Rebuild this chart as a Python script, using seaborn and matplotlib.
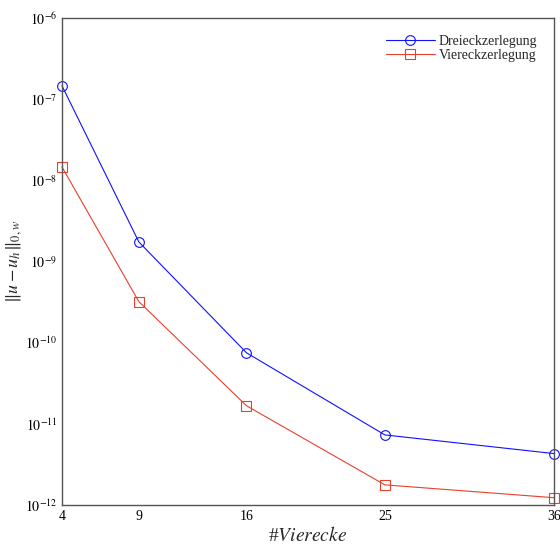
import numpy as np
import pandas as pd
import matplotlib
matplotlib.use("Agg")
import matplotlib.pyplot as plt
import seaborn as sns
from matplotlib.ticker import FixedLocator, NullLocator

n_vierecke = [4, 9, 16, 25, 36]
dreieck = [1.46e-7, 1.74e-9, 7.5e-11, 7.3e-12, 4.3e-12]
viereck = [1.46e-8, 3.2e-10, 1.67e-11, 1.77e-12, 1.23e-12]
series_names = ["Dreieckzerlegung", "Viereckzerlegung"]
y_exponents = [-12, -11, -10, -9, -8, -7, -6]

df = pd.DataFrame({
    "n": n_vierecke * 2,
    "err": dreieck + viereck,
    "method": [series_names[0]] * 5 + [series_names[1]] * 5,
})

sns.set_style("white")
plt.rcParams["font.family"] = ["Liberation Serif", "DejaVu Serif"]
plt.rcParams["mathtext.fontset"] = "stix"

fig = plt.figure(figsize=(5.6, 5.45), dpi=100)
ax = fig.add_axes([0.1107, 0.0734, 0.8786, 0.8936])

palette = {series_names[0]: "#1010ff", series_names[1]: "#e8402a"}
sns.lineplot(data=df, x="n", y="err", hue="method", style="method",
             markers={series_names[0]: "o", series_names[1]: "s"},
             dashes=False, palette=palette, ax=ax, linewidth=0.8,
             markersize=7, markerfacecolor="none", markeredgewidth=0.8)
for line, name in zip(ax.lines, series_names):
    line.set_markeredgecolor(palette[name])
    line.set_markerfacecolor("none")
    line.set_clip_on(False)

ax.set_yscale("log")
ax.set_ylim(1e-12, 1e-6)
ax.set_xlim(4, 36)
ax.xaxis.set_major_locator(FixedLocator(n_vierecke))
ax.set_xticklabels([str(v) for v in n_vierecke])
ax.yaxis.set_major_locator(FixedLocator([10.0 ** e for e in y_exponents]))
ax.set_yticklabels([r"$10^{%d}$" % e for e in y_exponents])
ax.yaxis.set_minor_locator(NullLocator())
ax.tick_params(axis="both", direction="in", length=4, width=0.6, labelsize=10, colors="#333333")
ax.tick_params(axis="both", labelcolor="black")
for sp in ax.spines.values():
    sp.set_visible(True)
    sp.set_color("#555555")
    sp.set_linewidth(1.0)

ax.set_xlabel(r"#$Vierecke$", fontsize=14, labelpad=2)
ax.set_ylabel(r"$\|u-u_h\|_{0,w}$", fontsize=13, labelpad=1)

handles, labels = ax.get_legend_handles_labels()
for h, name in zip(handles, labels):
    if name in palette:
        h.set_markerfacecolor("none")
        h.set_markeredgecolor(palette[name])
leg = ax.legend(handles=handles, labels=labels, loc="upper right", frameon=False,
                fontsize=10, handlelength=3.5, borderaxespad=0.8, labelspacing=0.1,
                handletextpad=0.3)

fig.savefig("out.png", dpi=100)
